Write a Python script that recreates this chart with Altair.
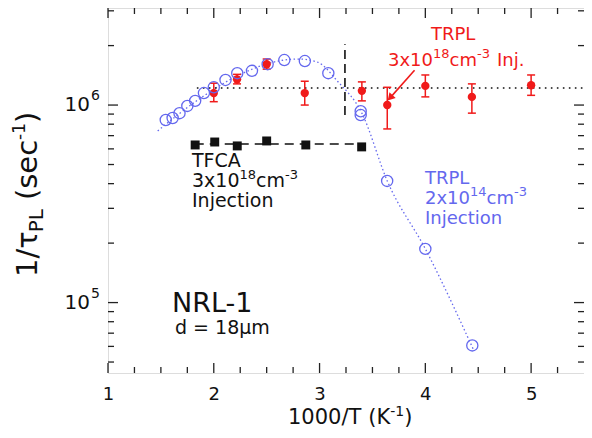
import altair as alt
import pandas as pd

# ---------------- data ----------------
# TRPL, 2x10^14 cm^-3 injection (open blue circles)
blue_x = [1.546, 1.611, 1.676, 1.75, 1.824, 1.907, 2.0, 2.111, 2.222, 2.361,
          2.509, 2.667, 2.861, 3.083, 3.389, 3.389, 3.639, 4.0, 4.444]
blue_y = [8.4e5, 8.6e5, 9.1e5, 9.9e5, 1.05e6, 1.15e6, 1.23e6, 1.34e6, 1.45e6, 1.49e6,
          1.61e6, 1.69e6, 1.67e6, 1.45e6, 9.3e5, 8.9e5, 4.13e5, 1.87e5, 6.07e4]
# dotted guide curve through the blue points
fit_x = [1.47, 1.87, 2.24, 2.61, 2.80, 2.98, 3.17, 3.40, 3.64, 4.0, 4.46]
fit_y = [7.4e5, 1.08e6, 1.42e6, 1.67e6, 1.71e6, 1.65e6, 1.32e6, 9.1e5, 4.13e5, 1.87e5, 5.7e4]

# TRPL, 3x10^18 cm^-3 injection (red filled circles with error bars)
red_x = [2.0, 2.22, 2.5, 2.86, 3.4, 3.64, 4.0, 4.44, 5.0]
red_y = [1.15e6, 1.35e6, 1.61e6, 1.15e6, 1.18e6, 1.0e6, 1.25e6, 1.10e6, 1.26e6]
red_hi = [1.29e6, 1.43e6, 1.71e6, 1.32e6, 1.31e6, 1.23e6, 1.42e6, 1.28e6, 1.42e6]
red_lo = [1.04e6, 1.28e6, 1.52e6, 1.0e6, 1.05e6, 7.57e5, 1.10e6, 9.1e5, 1.12e6]

# TFCA, 3x10^18 cm^-3 injection (black squares)
tfca_x = [1.824, 2.009, 2.222, 2.5, 2.87, 3.398]
tfca_y = [6.28e5, 6.50e5, 6.21e5, 6.58e5, 6.28e5, 6.14e5]
tfca_line_x = [1.82, 3.40]
tfca_line_y = [6.35e5]

# horizontal dotted level, vertical dashed marker, arrow
level_x = [1.84, 5.5]
level_y = [1.22e6]
vmark_x = [3.24]
vmark_y = [8.9e5, 2.03e6]
arrow_from = [3.898, 1.50e6]
arrow_to = [3.675, 1.10e6]

# axes
x_tick_labels = [1, 2, 3, 4, 5]
x_major = [1, 2, 3, 4, 5]
x_minor = [1.25, 1.5, 1.75, 2.25, 2.5, 2.75, 3.25, 3.5, 3.75, 4.25, 4.5, 4.75, 5.25]
y_major = [1e5, 1e6]
y_minor = [5e4, 6e4, 7e4, 8e4, 9e4, 2e5, 3e5, 4e5, 5e5, 6e5, 7e5, 8e5, 9e5, 2e6, 3e6]
y_label_vals = [1e5, 1e6]
y_label_exp = ["5", "6"]

# ---------------- layout / style ----------------
W, H = 476, 365
OX, OY = 108, 8          # page position of plot origin
FONT = "DejaVu Sans"
RED = "#f01a1a"
BLUE = "#6468ee"
BLACK = "#111111"

xs = alt.Scale(domain=[1, 5.5], nice=False, zero=False)
ys = alt.Scale(type="log", domain=[4.4e4, 3.1e6], nice=False)

x_axis = alt.Axis(values=x_tick_labels, ticks=False, domain=False, grid=False, title=None,
                  labelFontSize=18, labelFont=FONT, labelColor=BLACK, labelPadding=12,
                  labelFlush=False, labelOverlap=False)


def X(f="x"):
    return alt.X(f"{f}:Q", scale=xs, axis=x_axis)


def Y(f="y"):
    return alt.Y(f"{f}:Q", scale=ys, axis=None)


# DejaVu Sans advance widths (em)
WID = {**{d: 0.636 for d in "0123456789"}, "x": 0.592, "c": 0.55, "m": 0.974, "-": 0.361,
       " ": 0.318, "I": 0.295, "n": 0.634, "j": 0.278, ".": 0.318, "T": 0.611, "R": 0.695,
       "P": 0.603, "L": 0.557, "F": 0.575, "C": 0.698, "A": 0.684, "i": 0.278, "e": 0.615,
       "t": 0.392, "o": 0.612, "/": 0.337, "(": 0.39, ")": 0.39, "K": 0.656, "s": 0.521,
       "τ": 0.568, "N": 0.748, "d": 0.635, "=": 0.838, "μ": 0.636}


def tw(s, size):
    return sum(WID.get(ch, 0.6) for ch in s) * size


rows = []


def line(pieces, x0, y0, color, vertical=False):
    """pieces: (text, size, shift, gap); page coords; shift = baseline offset (neg = up)."""
    pos = 0.0
    for text, size, shift, gap in pieces:
        pos += gap
        if vertical:
            rows.append(dict(px=x0 + shift - OX, py=y0 - pos - OY, text=text, size=size,
                             color=color, angle=270))
        else:
            rows.append(dict(px=x0 + pos - OX, py=y0 + shift - OY, text=text, size=size,
                             color=color, angle=0))
        pos += tw(text, size)


# red annotation
line([("TRPL", 18, 0, 0)], 431, 40, RED)
line([("3x10", 18, 0, 0), ("18", 13, -8, 0), ("cm", 18, 0, 0), ("-3", 13, -8, 0),
      ("Inj.", 18, 0, 7)], 388, 66, RED)
# black annotation
line([("TFCA", 19, 0, 0)], 192, 167, BLACK)
line([("3x10", 19, 0, 0), ("18", 13, -8, 0), ("cm", 19, 0, 0), ("-3", 13, -8, 0)], 192, 187, BLACK)
line([("Injection", 19, 0, 0)], 192, 207, BLACK)
# blue annotation
line([("TRPL", 18, 0, 0)], 425, 184, BLUE)
line([("2x10", 18, 0, 0), ("14", 13, -8, 0), ("cm", 18, 0, 0), ("-3", 13, -8, 0)], 425, 204, BLUE)
line([("Injection", 18, 0, 0)], 425, 224, BLUE)
# sample label
line([("NRL-1", 27, 0, 0)], 172, 312, BLACK)
line([("d = 18μm", 19, 0, 0)], 175, 334, BLACK)
# x title
line([("1000/T", 21, 0, 0), ("(K", 21, 0, 7), ("-1", 14, -8, 0), (")", 21, 0, 0)], 288, 424, BLACK)
# y title (rotated)
line([("1/τ", 29, 0, 0), ("PL", 20, 6, 0), ("(sec", 29, 0, 9), ("-1", 17, -12, 0), (")", 29, 0, 0)],
     37, 277, BLACK, vertical=True)

text_df = pd.DataFrame(rows)

# ---------------- layers ----------------
blue_df = pd.DataFrame({"x": blue_x, "y": blue_y})
fit_df = pd.DataFrame({"x": fit_x, "y": fit_y})
red_df = pd.DataFrame({"x": red_x, "y": red_y, "lo": red_lo, "hi": red_hi})
tfca_df = pd.DataFrame({"x": tfca_x, "y": tfca_y})
tfca_line_df = pd.DataFrame({"x": [tfca_line_x[0]], "x2": [tfca_line_x[1]], "y": tfca_line_y})
level_df = pd.DataFrame({"x": [level_x[0]], "x2": [level_x[1]], "y": level_y})
vmark_df = pd.DataFrame({"x": vmark_x, "y": [vmark_y[0]], "y2": [vmark_y[1]]})
arrow_df = pd.DataFrame({"x": [arrow_from[0]], "y": [arrow_from[1]],
                         "x2": [arrow_to[0]], "y2": [arrow_to[1]]})
head_df = pd.DataFrame({"x": [arrow_to[0]], "y": [arrow_to[1]]})

fit = alt.Chart(fit_df).mark_line(interpolate="monotone", color=BLUE, strokeWidth=1.3,
                                  strokeDash=[1.5, 2.5]).encode(x=X(), y=Y())
blue = alt.Chart(blue_df).mark_point(shape="circle", size=125, filled=False, color=BLUE,
                                     strokeWidth=1.3, opacity=1).encode(x=X(), y=Y())
level = alt.Chart(level_df).mark_rule(color=BLACK, strokeWidth=1.6, strokeDash=[1.6, 4.4]).encode(
    x=X(), x2="x2:Q", y=Y())
vmark = alt.Chart(vmark_df).mark_rule(color=BLACK, strokeWidth=1.6, strokeDash=[9, 5]).encode(
    x=X(), y=Y(), y2="y2:Q")
tfca_line = alt.Chart(tfca_line_df).mark_rule(color=BLACK, strokeWidth=1.6, strokeDash=[9, 6]).encode(
    x=X(), x2="x2:Q", y=Y())
tfca = alt.Chart(tfca_df).mark_point(shape="square", size=80, filled=True, color=BLACK,
                                     opacity=1).encode(x=X(), y=Y())
err = alt.Chart(red_df).mark_rule(color=RED, strokeWidth=1.5).encode(x=X(), y=Y("lo"), y2="hi:Q")
cap_shape = "M-1,0L1,0"
cap_lo = alt.Chart(red_df).mark_point(shape=cap_shape, size=64, filled=False, color=RED,
                                      strokeWidth=1.5, opacity=1).encode(x=X(), y=Y("lo"))
cap_hi = alt.Chart(red_df).mark_point(shape=cap_shape, size=64, filled=False, color=RED,
                                      strokeWidth=1.5, opacity=1).encode(x=X(), y=Y("hi"))
red = alt.Chart(red_df).mark_point(shape="circle", size=70, filled=True, color=RED,
                                   opacity=1).encode(x=X(), y=Y())
arrow = alt.Chart(arrow_df).mark_rule(color=RED, strokeWidth=1.6).encode(
    x=X(), y=Y(), x2="x2:Q", y2="y2:Q")
head = alt.Chart(head_df).mark_point(shape="triangle", size=70, filled=True, color=RED,
                                     opacity=1, angle=222).encode(x=X(), y=Y())

# frame ticks (inside)
xmaj_df = pd.DataFrame({"x": x_major})
xmin_df = pd.DataFrame({"x": x_minor})
ymaj_df = pd.DataFrame({"y": y_major})
ymin_df = pd.DataFrame({"y": y_minor})
TICK = dict(color="#222222", strokeWidth=1.3)
ticks = [
    alt.Chart(xmaj_df).mark_rule(**TICK).encode(x=X(), y=alt.value(H), y2=alt.value(H - 10)),
    alt.Chart(xmaj_df).mark_rule(**TICK).encode(x=X(), y=alt.value(0), y2=alt.value(10)),
    alt.Chart(xmin_df).mark_rule(**TICK).encode(x=X(), y=alt.value(H), y2=alt.value(H - 6)),
    alt.Chart(xmin_df).mark_rule(**TICK).encode(x=X(), y=alt.value(0), y2=alt.value(6)),
    alt.Chart(ymaj_df).mark_rule(**TICK).encode(y=Y(), x=alt.value(0), x2=alt.value(10)),
    alt.Chart(ymaj_df).mark_rule(**TICK).encode(y=Y(), x=alt.value(W), x2=alt.value(W - 10)),
    alt.Chart(ymin_df).mark_rule(**TICK).encode(y=Y(), x=alt.value(0), x2=alt.value(6)),
    alt.Chart(ymin_df).mark_rule(**TICK).encode(y=Y(), x=alt.value(W), x2=alt.value(W - 6)),
]

ylab_df = pd.DataFrame({"y": y_label_vals, "exp": y_label_exp})
ylab = alt.Chart(ylab_df).mark_text(font=FONT, fontSize=20, align="right", baseline="middle",
                                    color=BLACK, text="10").encode(y=Y(), x=alt.value(-18))
yexp = alt.Chart(ylab_df).mark_text(font=FONT, fontSize=14, align="left", baseline="middle",
                                    color=BLACK, dy=-9).encode(y=Y(), x=alt.value(-17), text="exp:N")

texts = alt.Chart(text_df).mark_text(font=FONT, align="left", baseline="alphabetic").encode(
    x=alt.X("px:Q", scale=None, axis=None),
    y=alt.Y("py:Q", scale=None, axis=None),
    text="text:N",
    size=alt.Size("size:Q", scale=None, legend=None),
    color=alt.Color("color:N", scale=None, legend=None),
    angle=alt.Angle("angle:Q", scale=None),
)

chart = alt.layer(
    fit, level, vmark, tfca_line, tfca, err, cap_lo, cap_hi, red, blue, arrow, head,
    *ticks, ylab, yexp, texts
).properties(
    width=W, height=H,
    autosize=alt.AutoSizeParams(type="none"),
    padding={"left": OX - 8, "top": OY - 8, "right": 0, "bottom": 57},
).configure_view(stroke="#222222", strokeWidth=1.6).configure(background="white")

chart.save("out.html", embed_options={"renderer": "svg", "actions": False})
